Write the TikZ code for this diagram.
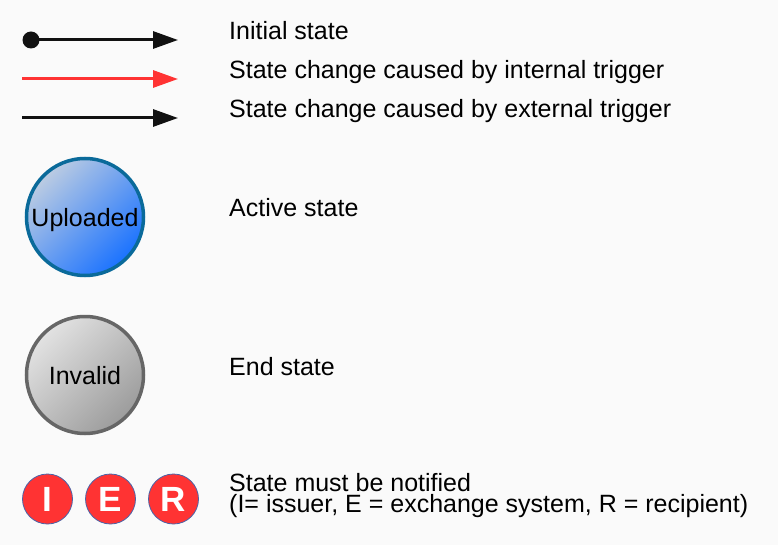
\documentclass[tikz,border=0pt]{standalone}
\usepackage{fontspec}
\setmainfont{Liberation Sans}
\usetikzlibrary{arrows.meta}
\definecolor{bg}{HTML}{FAFAFA}
\definecolor{arrowblack}{HTML}{111111}
\definecolor{arrowred}{HTML}{FF3333}
\definecolor{activeborder}{HTML}{0A6A9A}
\definecolor{activelight}{HTML}{BCCCE2}
\definecolor{activedark}{HTML}{1A72FF}
\definecolor{endborder}{HTML}{666666}
\definecolor{endlight}{HTML}{E2E2E2}
\definecolor{enddark}{HTML}{9C9C9C}
\definecolor{notifyred}{HTML}{FF3333}
\definecolor{notifyborder}{HTML}{4A64A8}
\tikzset{
  legendarrow/.style={line width=3pt, -{Triangle[length=25pt,width=17pt]}},
  legendtext/.style={anchor=base west, inner sep=0pt, font=\fontsize{25}{25}\selectfont},
  statecircle/.style={circle, minimum size=117pt, inner sep=0pt, line width=3.5pt, text height=18pt, text depth=0pt, font=\fontsize{25}{25}\selectfont},
  activestate/.style={statecircle, draw=activeborder, top color=activelight, bottom color=activedark, shading angle=45},
  endstate/.style={statecircle, draw=endborder, top color=endlight, bottom color=enddark, shading angle=45},
  notify/.style={circle, minimum size=50pt, inner sep=0pt, fill=notifyred, draw=notifyborder, line width=0.8pt, text=white, text height=25pt, text depth=0pt, font=\fontsize{35}{35}\bfseries\selectfont},
  dot/.style={circle, fill=arrowblack, minimum size=17pt, inner sep=0pt}
}
\begin{document}
\begin{tikzpicture}[x=1pt, y=-1pt]
\useasboundingbox (0,0) rectangle (778,545);
\fill[bg] (0,0) rectangle (778,545);
% legend arrows
\node[dot] (d1) at (31,40) {};
\coordinate (e1) at (178,40);
\draw[legendarrow, arrowblack] (d1.center) -- (e1);
\coordinate (s2) at (22,79);
\coordinate (e2) at (178,79);
\draw[legendarrow, arrowred] (s2) -- (e2);
\coordinate (s3) at (22,118);
\coordinate (e3) at (178,118);
\draw[legendarrow, arrowblack] (s3) -- (e3);
\node[legendtext] (t1) at (229,40) {Initial state};
\node[legendtext] (t2) at (229,79) {State change caused by internal trigger};
\node[legendtext] (t3) at (229,117.5) {State change caused by external trigger};
% states
\node[activestate] (up) at (85,217) {Uploaded};
\node[legendtext] (t4) at (229,217) {Active state};
\node[endstate] (inv) at (85,375) {Invalid};
\node[legendtext] (t5) at (229,375) {End state};
% notification
\node[notify] (ni) at (47.5,499) {I};
\node[notify] (ne) at (110.5,499) {E};
\node[notify] (nr) at (173.5,499) {R};
\node[legendtext] (t6) at (229,491.5) {State must be notified};
\node[legendtext] (t7) at (229,512) {(I= issuer, E = exchange system, R = recipient)};
\end{tikzpicture}
\end{document}
